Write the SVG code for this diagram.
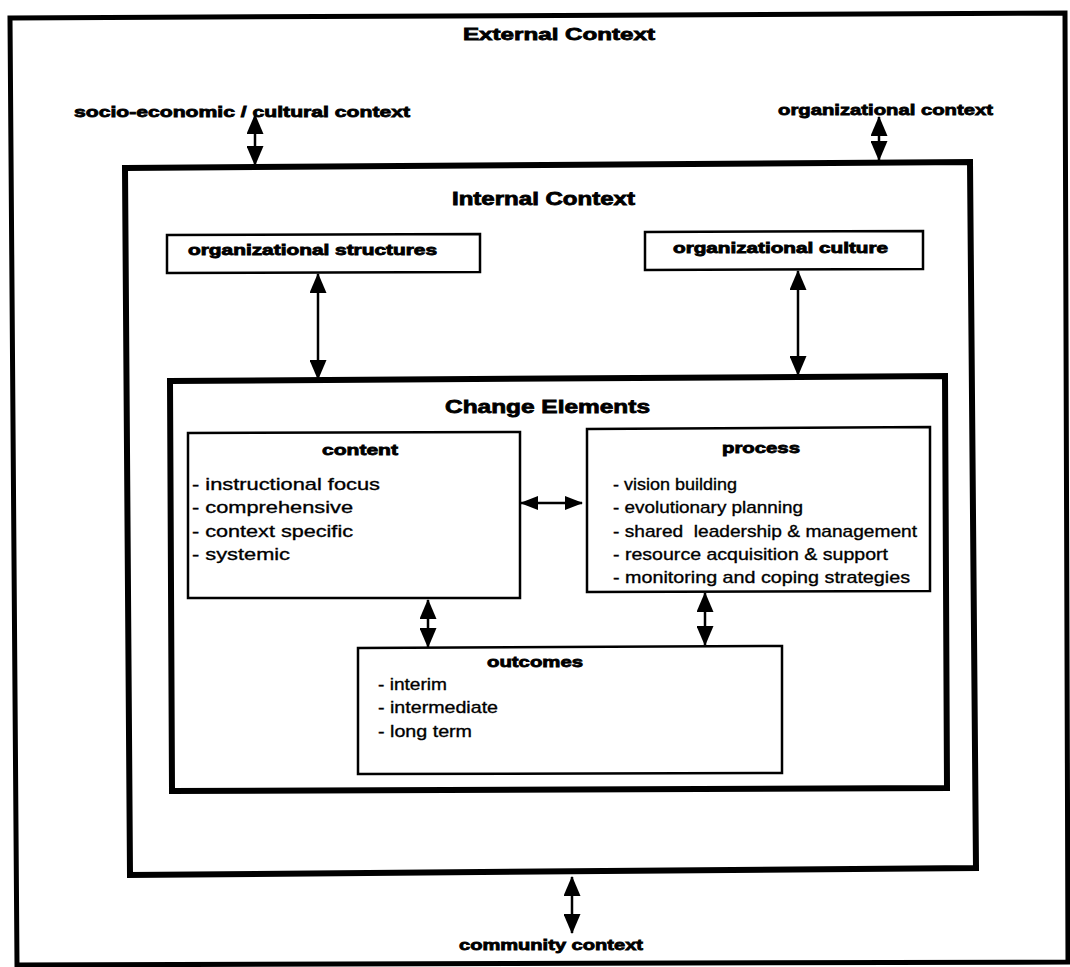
<svg xmlns="http://www.w3.org/2000/svg" width="1070" height="967" viewBox="0 0 1070 967">
<defs>
<marker id="av" markerUnits="userSpaceOnUse" viewBox="0 0 20 17" markerWidth="20" markerHeight="17" refX="19" refY="8.5" orient="auto-start-reverse"><path d="M0,0 L20,8.5 L0,17 Z" fill="#000"/></marker>
<marker id="ah" markerUnits="userSpaceOnUse" viewBox="0 0 18 14" markerWidth="18" markerHeight="14" refX="17" refY="7" orient="auto-start-reverse"><path d="M0,0 L18,7 L0,14 Z" fill="#000"/></marker>
</defs>
<style>
.box{fill:none;stroke:#000;stroke-linejoin:miter}
.thick{stroke-width:6}
.thin{stroke-width:2.5}
.t{font-family:"Liberation Sans",Arial,Helvetica,sans-serif;font-weight:bold;fill:#000;stroke:#000;stroke-width:0.8}
.i{font-family:"Liberation Sans",Arial,Helvetica,sans-serif;font-size:17px;fill:#000;stroke:#000;stroke-width:0.35}
.c{stroke:#000;stroke-width:2.5;fill:none}
</style>
<rect x="0" y="0" width="1070" height="967" fill="#fff"/>

<g id="external">
<path class="box" style="stroke-width:5" d="M10,18 L1065,13 L1068,962 L17,965 Z"/>
<text class="t" x="463" y="40" font-size="17" textLength="192" lengthAdjust="spacingAndGlyphs">External Context</text>
</g>

<g id="socio">
<text class="t" x="74" y="117" font-size="15" textLength="336" lengthAdjust="spacingAndGlyphs">socio-economic / cultural context</text>
</g>

<g id="orgcontext">
<text class="t" x="778" y="115" font-size="15" textLength="215" lengthAdjust="spacingAndGlyphs">organizational context</text>
</g>

<g id="community">
<text class="t" x="459" y="950" font-size="15" textLength="184" lengthAdjust="spacingAndGlyphs">community context</text>
</g>

<g id="internal">
<path class="box thick" d="M125,168 L970,162 L976,868 L130,875 Z"/>
<text class="t" x="452" y="205" font-size="18" textLength="183" lengthAdjust="spacingAndGlyphs">Internal Context</text>
</g>

<g id="orgstructures">
<path class="box thin" d="M167,235 L480,234 L480,272 L167,273 Z"/>
<text class="t" x="188" y="255" font-size="14" textLength="249" lengthAdjust="spacingAndGlyphs">organizational structures</text>
</g>

<g id="orgculture">
<path class="box thin" d="M645,232 L923,231 L923,269 L645,270 Z"/>
<text class="t" x="673" y="253" font-size="14" textLength="215" lengthAdjust="spacingAndGlyphs">organizational culture</text>
</g>

<g id="change">
<path class="box thick" d="M170,381 L945,376 L947,788 L172,791 Z"/>
<text class="t" x="445" y="413" font-size="19" textLength="205" lengthAdjust="spacingAndGlyphs">Change Elements</text>
</g>

<g id="content">
<path class="box thin" d="M188,433 L520,432 L520,598 L188,598 Z"/>
<text class="t" x="322" y="455" font-size="15" textLength="76" lengthAdjust="spacingAndGlyphs">content</text>
<text class="i" x="192" y="490" textLength="188" lengthAdjust="spacingAndGlyphs">- instructional focus</text>
<text class="i" x="192" y="513" textLength="161" lengthAdjust="spacingAndGlyphs">- comprehensive</text>
<text class="i" x="192" y="537" textLength="161" lengthAdjust="spacingAndGlyphs">- context specific</text>
<text class="i" x="192" y="560" textLength="98" lengthAdjust="spacingAndGlyphs">- systemic</text>
</g>

<g id="process">
<path class="box thin" d="M587,429 L930,427 L930,591 L587,592 Z"/>
<text class="t" x="722" y="453" font-size="15" textLength="78" lengthAdjust="spacingAndGlyphs">process</text>
<text class="i" x="613" y="490" textLength="124" lengthAdjust="spacingAndGlyphs">- vision building</text>
<text class="i" x="613" y="513" textLength="190" lengthAdjust="spacingAndGlyphs">- evolutionary planning</text>
<text class="i" x="613" y="537" textLength="304" lengthAdjust="spacingAndGlyphs" xml:space="preserve">- shared  leadership &amp; management</text>
<text class="i" x="613" y="560" textLength="275" lengthAdjust="spacingAndGlyphs">- resource acquisition &amp; support</text>
<text class="i" x="613" y="583" textLength="297" lengthAdjust="spacingAndGlyphs">- monitoring and coping strategies</text>
</g>

<g id="outcomes">
<path class="box thin" d="M358,648 L782,646 L782,773 L358,774 Z"/>
<text class="t" x="487" y="667" font-size="15" textLength="96" lengthAdjust="spacingAndGlyphs">outcomes</text>
<text class="i" x="378" y="690" textLength="69" lengthAdjust="spacingAndGlyphs">- interim</text>
<text class="i" x="378" y="713" textLength="120" lengthAdjust="spacingAndGlyphs">- intermediate</text>
<text class="i" x="378" y="737" textLength="94" lengthAdjust="spacingAndGlyphs">- long term</text>
</g>

<g id="connectors">
<line class="c" x1="255" y1="115" x2="255" y2="165" marker-start="url(#av)" marker-end="url(#av)"/>
<line class="c" x1="879" y1="117" x2="879" y2="160" marker-start="url(#av)" marker-end="url(#av)"/>
<line class="c" x1="318" y1="274" x2="318" y2="379" marker-start="url(#av)" marker-end="url(#av)"/>
<line class="c" x1="798" y1="271" x2="798" y2="375" marker-start="url(#av)" marker-end="url(#av)"/>
<line class="c" x1="521" y1="503" x2="582" y2="503" marker-start="url(#ah)" marker-end="url(#ah)"/>
<line class="c" x1="428" y1="600" x2="428" y2="647" marker-start="url(#av)" marker-end="url(#av)"/>
<line class="c" x1="705" y1="593" x2="705" y2="645" marker-start="url(#av)" marker-end="url(#av)"/>
<line class="c" x1="572" y1="877" x2="572" y2="933" marker-start="url(#av)" marker-end="url(#av)"/>
</g>
</svg>
